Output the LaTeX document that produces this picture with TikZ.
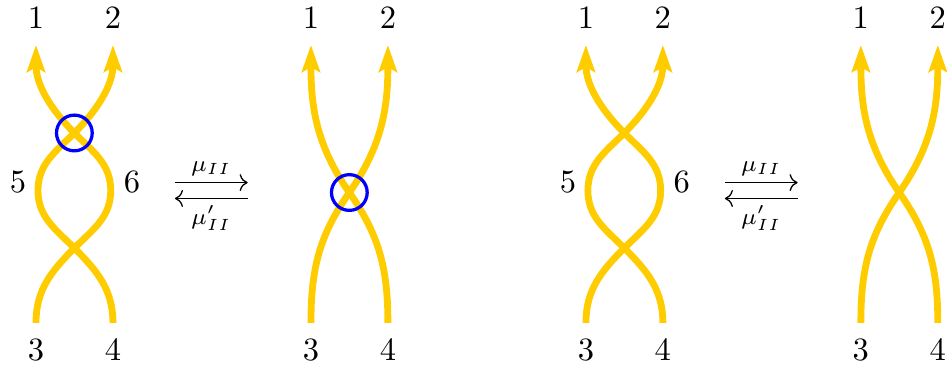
\documentclass[tikz,border=0pt]{standalone}
\usetikzlibrary{arrows.meta}
\definecolor{braidyellow}{RGB}{255,204,0}
\tikzstyle{strand}=[draw=braidyellow, line width=2.1pt, -{Stealth[length=8.3pt,width=5.6pt,inset=1.5pt]}]
\tikzstyle{ring}=[draw=blue, line width=1pt]

\begin{document}
\begin{tikzpicture}[scale=0.715]
\useasboundingbox (-0.544,-0.65) rectangle (13.77,4.88);
\foreach \p in {1,3}
{
\begin{scope}[xshift={(\p-1)*4.156cm}]
\node (one\p) at (0,4.61) {1};
\node (two\p) at (1.163,4.61) {2};
\node (three\p) at (0,-0.41) {3};
\node (four\p) at (1.163,-0.41) {4};
\node (five\p) at (-0.27,2.13) {5};
\node (six\p) at (1.45,2.13) {6};
\coordinate (sl\p) at (0,0);
\coordinate (sr\p) at (1.163,0);
\coordinate (el\p) at (0,4.2);
\coordinate (er\p) at (1.163,4.2);
\coordinate (xa\p) at (0.58,1.13);
\coordinate (xb\p) at (0.58,2.87);
\draw[strand] (sl\p) to[out=90,in=225] (xa\p) to[out=45,in=270] (1.13,2) to[out=90,in=315] (xb\p) to[out=135,in=270] (el\p);
\draw[strand] (sr\p) to[out=90,in=315] (xa\p) to[out=135,in=270] (0.03,2) to[out=90,in=225] (xb\p) to[out=45,in=270] (er\p);
% moves between the pictures
\coordinate (al\p) at (2.10,2.12);
\coordinate (ar\p) at (3.20,2.12);
\coordinate (bl\p) at (2.10,1.88);
\coordinate (br\p) at (3.20,1.88);
\draw[->] (al\p) -- node[above, inner sep=2pt] (mu\p) {$\scriptstyle\mu_{II}$} (ar\p);
\draw[<-] (bl\p) -- node[below, inner sep=2pt] (nu\p) {$\scriptstyle\mu'_{II}$} (br\p);
\end{scope}
}
\foreach \p in {2,4}
{
\begin{scope}[xshift={(\p-1)*4.156cm}]
\node (one\p) at (0,4.61) {1};
\node (two\p) at (1.163,4.61) {2};
\node (three\p) at (0,-0.41) {3};
\node (four\p) at (1.163,-0.41) {4};
\coordinate (sl\p) at (0,0);
\coordinate (sr\p) at (1.163,0);
\coordinate (el\p) at (0,4.2);
\coordinate (er\p) at (1.163,4.2);
\coordinate (xa\p) at (0.58,1.97);
\draw[strand] (sl\p) to[out=90,in=235] (xa\p) to[out=55,in=270] (er\p);
\draw[strand] (sr\p) to[out=90,in=305] (xa\p) to[out=125,in=270] (el\p);
\end{scope}
}
\draw[ring] (xb1) circle (0.27);
\draw[ring] (xa2) circle (0.27);
\end{tikzpicture}
\end{document}
